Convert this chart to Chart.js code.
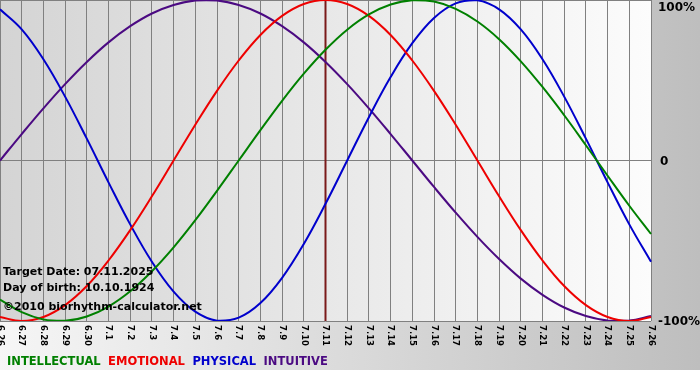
<!DOCTYPE html>
<html>
<head>
<meta charset="utf-8">
<script src="https://cdn.jsdelivr.net/npm/chart.js@4/dist/chart.umd.min.js"></script>
<style>
  html, body { margin: 0; padding: 0; background: #ffffff; }
  #wrap { width: 700px; height: 380px; }
</style>
</head>
<body>
<div id="wrap"><canvas id="c" width="700" height="380"></canvas></div>
<script>
const days = ['6.26','6.27','6.28','6.29','6.30','7.1','7.2','7.3','7.4','7.5','7.6','7.7','7.8','7.9','7.10','7.11','7.12','7.13','7.14','7.15','7.16','7.17','7.18','7.19','7.20','7.21','7.22','7.23','7.24','7.25','7.26'];
const intellectual = [-86.6,-94.5,-99.0,-99.9,-97.2,-91.0,-81.5,-69.0,-54.1,-37.2,-18.9,0,18.9,37.2,54.1,69.0,81.5,91.0,97.2,99.9,99.0,94.5,86.6,75.6,61.8,45.8,28.2,9.5,-9.5,-28.2,-45.8];
const emotional = [-97.5,-100,-97.5,-90.1,-78.2,-62.3,-43.4,-22.3,0,22.3,43.4,62.3,78.2,90.1,97.5,100,97.5,90.1,78.2,62.3,43.4,22.3,0,-22.3,-43.4,-62.3,-78.2,-90.1,-97.5,-100,-97.5];
const physical = [94.2,81.7,63.1,39.8,13.6,-13.6,-39.8,-63.1,-81.7,-94.2,-99.8,-97.9,-88.8,-73.1,-52.0,-27.0,0,27.0,52.0,73.1,88.8,97.9,99.8,94.2,81.7,63.1,39.8,13.6,-13.6,-39.8,-63.1];
const intuitive = [0,16.5,32.5,47.6,61.4,73.6,83.7,91.6,96.9,99.7,99.7,96.9,91.6,83.7,73.6,61.4,47.6,32.5,16.5,0,-16.5,-32.5,-47.6,-61.4,-73.6,-83.7,-91.6,-96.9,-99.7,-99.7,-96.9];
const yTickLabels = ['100%', '0', '-100%'];
const yTickValues = [100, 0, -100];
const targetIndex = 15;
const infoLines = ['Target Date: 07.11.2025', 'Day of birth: 10.10.1924', '\u00A92010 biorhythm-calculator.net'];
const seriesNames = ['INTELLECTUAL', 'EMOTIONAL', 'PHYSICAL', 'INTUITIVE'];

const colors = ['#008000', '#ee0000', '#0000cc', '#4b0a82'];

const decor = {
  id: 'decor',
  beforeDraw(chart) {
    const ctx = chart.ctx, a = chart.chartArea;
    ctx.save();
    const g = ctx.createLinearGradient(0, 0, 700, 0);
    g.addColorStop(0, '#f6f6f6');
    g.addColorStop(1, '#bebebe');
    ctx.fillStyle = g;
    ctx.fillRect(0, 0, 700, 370);
    ctx.fillStyle = '#ffffff';
    ctx.fillRect(0, 370, 700, 10);
    const pg = ctx.createLinearGradient(a.left, 0, a.right, 0);
    pg.addColorStop(0, '#d4d4d4');
    pg.addColorStop(1, '#fcfcfc');
    ctx.fillStyle = pg;
    ctx.fillRect(a.left, a.top, a.right - a.left, a.bottom - a.top);
    ctx.restore();
  },
  beforeDatasetsDraw(chart) {
    const ctx = chart.ctx, a = chart.chartArea, x = chart.scales.x;
    const px = x.getPixelForValue(targetIndex);
    ctx.save();
    ctx.strokeStyle = '#7a1a1a';
    ctx.lineWidth = 2;
    ctx.beginPath();
    ctx.moveTo(px, a.top);
    ctx.lineTo(px, a.bottom);
    ctx.stroke();
    ctx.restore();
  },
  afterDraw(chart) {
    const ctx = chart.ctx, a = chart.chartArea, xs = chart.scales.x, ys = chart.scales.y;
    ctx.save();
    ctx.fillStyle = '#000000';
    ctx.font = 'bold 8.5px "DejaVu Sans"';
    ctx.textAlign = 'left';
    ctx.textBaseline = 'middle';
    days.forEach((d, i) => {
      const px = xs.getPixelForValue(i);
      ctx.save();
      ctx.translate(px, a.bottom + 4);
      ctx.rotate(Math.PI / 2);
      ctx.fillText(d, 0, 0);
      ctx.restore();
    });
    ctx.font = 'bold 12px "DejaVu Sans"';
    ctx.textBaseline = 'middle';
    yTickLabels.forEach((t, i) => {
      let py = ys.getPixelForValue(yTickValues[i]);
      if (i === 0) py += 7;
      ctx.fillText(t, a.right + (t === '0' ? 9 : 7), py + 1);
    });
    ctx.font = 'bold 11px "DejaVu Sans"';
    ctx.fillText(infoLines[0], 3, 272);
    ctx.fillText(infoLines[1], 3, 288);
    ctx.fillText(infoLines[2], 3, 307);
    ctx.font = 'bold 11.5px "DejaVu Sans"';
    let lx = 7;
    chart.data.datasets.forEach((ds) => {
      ctx.fillStyle = ds.borderColor;
      ctx.fillText(ds.label, lx, 362);
      lx += ctx.measureText(ds.label).width + 7.5;
    });
    ctx.restore();
  }
};

new Chart(document.getElementById('c'), {
  type: 'line',
  data: {
    labels: days,
    datasets: [
      { label: seriesNames[0], data: intellectual, borderColor: colors[0] },
      { label: seriesNames[1], data: emotional, borderColor: colors[1] },
      { label: seriesNames[2], data: physical, borderColor: colors[2] },
      { label: seriesNames[3], data: intuitive, borderColor: colors[3] }
    ]
  },
  options: {
    responsive: false,
    animation: false,
    devicePixelRatio: 1,
    layout: { padding: { left: 0, top: 0, right: 49, bottom: 59 } },
    elements: {
      point: { radius: 0, hoverRadius: 0 },
      line: { borderWidth: 2, tension: 0.4, fill: false }
    },
    plugins: { legend: { display: false }, tooltip: { enabled: false } },
    scales: {
      x: {
        offset: false,
        ticks: { display: false },
        grid: { color: '#808080', lineWidth: 1, drawTicks: false },
        border: { display: false },
        afterFit(s) { s.height = 0; }
      },
      y: {
        min: -100, max: 100,
        ticks: { display: false, stepSize: 100 },
        grid: { color: '#808080', lineWidth: 1, drawTicks: false },
        border: { display: false },
        afterFit(s) { s.width = 0; }
      }
    }
  },
  plugins: [decor]
});
</script>
</body>
</html>
